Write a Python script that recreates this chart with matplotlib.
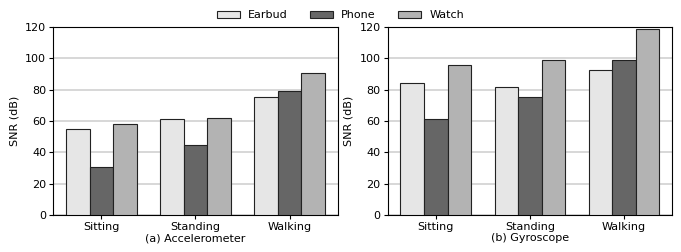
import numpy as np
import matplotlib
matplotlib.use('Agg')
import matplotlib.pyplot as plt

activities = ['Sitting', 'Standing', 'Walking']
devices = ['Earbud', 'Phone', 'Watch']

# SNR (dB) por dispositivo
accel_earbud = [54.6, 61.0, 75.6]
accel_phone = [30.4, 44.4, 79.2]
accel_watch = [58.0, 61.8, 90.9]

gyro_earbud = [84.5, 81.8, 92.8]
gyro_phone = [61.0, 75.2, 98.6]
gyro_watch = [96.0, 99.0, 118.7]

cores = ['#e6e6e6', '#666666', '#b3b3b3']

plt.rcParams['font.size'] = 8

fig, axes = plt.subplots(1, 2, figsize=(6.81, 2.52), dpi=100)
x = np.arange(len(activities))
w = 0.25

paineis = [
    (axes[0], [accel_earbud, accel_phone, accel_watch], '(a) Accelerometer'),
    (axes[1], [gyro_earbud, gyro_phone, gyro_watch], '(b) Gyroscope'),
]

for ax, series, titulo in paineis:
    for i, vals in enumerate(series):
        ax.bar(x + (i - 1) * w, vals, w, color=cores[i], edgecolor='#222222',
               linewidth=0.8, label=devices[i], zorder=3)
    ax.set_ylim(0, 120)
    ax.set_yticks(range(0, 121, 20))
    ax.set_xticks(x)
    ax.set_xticklabels(activities)
    ax.set_ylabel('SNR (dB)')
    ax.set_xlabel(titulo, labelpad=1)
    ax.yaxis.grid(True, color='#d4d4d4', linewidth=1.3, zorder=0)
    ax.set_axisbelow(True)
    ax.tick_params(axis='both', length=3, pad=2)

handles, labels = axes[0].get_legend_handles_labels()
fig.legend(handles, labels, loc='upper center', ncol=3, frameon=False,
           bbox_to_anchor=(0.5, 1.0), handlelength=2.1, columnspacing=2.0,
           handletextpad=0.7, handleheight=0.6)

plt.subplots_adjust(left=0.078, right=0.987, top=0.893, bottom=0.147, wspace=0.175)
plt.savefig('out.png')
plt.close()
